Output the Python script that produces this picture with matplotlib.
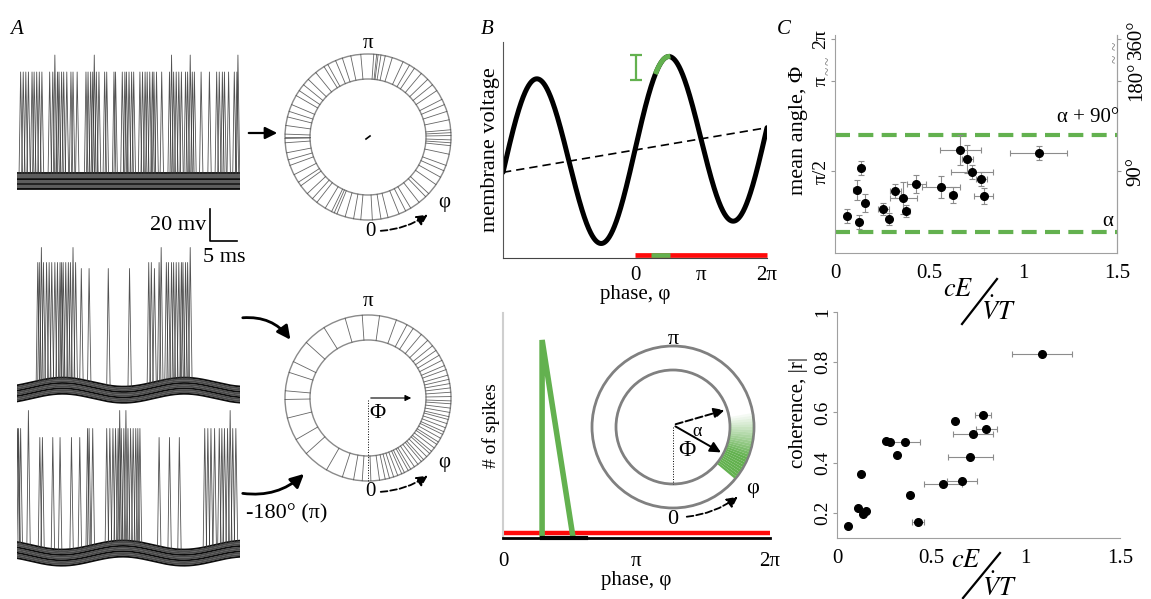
import numpy as np
import matplotlib
matplotlib.use('Agg')
import matplotlib.pyplot as plt
from matplotlib.patches import Circle, Polygon

plt.rcParams['font.family'] = ['Liberation Serif', 'DejaVu Serif']
plt.rcParams['mathtext.fontset'] = 'stix'

W, H = 1151, 599
GREEN = '#63b14f'
RED = '#ff0a0a'
GREY = '#9a9a9a'

# ---------------- panel A : spike times (ms) ----------------
top_spikes = [0.7, 1.2, 1.7, 2.2, 2.9, 3.3, 3.8, 4.3, 4.8, 6.3, 6.9, 7.8, 8.1, 8.6, 9.0, 9.6,
              10.4, 10.8, 11.6, 13.3, 13.7, 14.2, 14.6, 15.3, 15.8, 16.9, 17.3, 18.7, 19.0,
              20.3, 20.8, 21.1, 21.6, 22.1, 22.5, 23.7, 24.2, 24.7, 25.1, 25.6, 26.1, 26.4,
              26.9, 27.9, 29.4, 30.2, 30.7, 31.2, 31.7, 32.5, 32.9, 33.8, 34.2, 35.5, 37.1,
              38.5, 39.0, 39.6, 40.0, 40.8, 41.9, 42.4]
top_tall = [7.3, 14.9, 29.8, 33.4, 42.6]

mid_spikes = [4.0, 4.3, 5.1, 5.7, 6.2, 6.7, 7.3, 7.8, 8.3, 8.6, 8.9, 9.4, 9.9, 10.3, 11.3,
              25.4, 25.9, 27.4, 28.8, 29.2, 29.8, 30.2, 30.7, 31.2, 31.7, 32.0, 32.5, 32.9]
mid_tall = [4.7, 10.8, 27.8, 33.4]
mid_short = [12.4, 13.9, 17.6, 21.7, 26.5]

bot_spikes = [0.1, 0.3, 0.7, 13.6, 13.9, 14.6, 17.3, 17.9, 18.5, 19.0, 19.5, 20.1, 20.6,
              21.4, 21.9, 22.4, 22.9, 23.3, 23.7, 36.2, 36.8, 37.4, 38.1, 39.0, 39.5, 40.0,
              40.6, 41.6, 42.2]
bot_tall = [2.2, 19.8, 21.0, 41.1]
bot_short = [4.4, 4.9, 6.9, 8.3, 10.5, 12.1, 27.4, 29.4, 31.3]

v_rest = -60.0
band_offsets = [-5.5, -4.3, -3.1, -1.9, -0.7, 0.5, 1.7, 2.9, 4.1, 5.3]
drive_amp = 3.0
drive_period = 23.5
mid_crest = 8.8
bot_crest = 20.4

# spike phases (deg, 0 at bottom) in the ring rasters
top_ring = [3, 9, 14, 22, 27, 31, 38, 44, 47, 55, 61, 66, 70, 78, 84, 86, 88, 91, 93, 95,
            102, 108, 113, 117, 124, 129, 134, 140, 146, 150, 155, 163, 168, 171, 173, 174,
            176, 185, 192, 198, 203, 209, 212, 219, 226, 231, 236, 240, 247, 252, 256, 262,
            268, 270, 271, 274, 281, 286, 290, 297, 303, 306, 313, 318, 322, 329, 334, 336,
            338, 344, 350, 355]
bot_ring = [2, 8, 12, 15, 18, 21, 24, 26, 29, 31, 34, 37, 40, 42, 45, 48, 50, 53, 56, 58,
            61, 64, 66, 69, 72, 75, 77, 80, 83, 86, 88, 91, 94, 97, 100, 103, 106, 110, 113,
            117, 121, 125, 129, 134, 140, 147, 152, 160, 172, 184, 196, 212, 228, 244, 252,
            265, 271, 284, 300, 312, 330, 342, 350, 356]

# ---------------- panel B ----------------
vm_trend = [-63.1, -56.9]      # dashed line at phase -2pi and 2pi
vm_amp = 12.2
green_arc = [1.0, np.pi / 2]
green_bar = [0.75, 1.65]
hist_phase = [0.92, 0.92, 1.65]
hist_count = [0, 44, 0]
inset_mean = 62      # deg
inset_dashed = 108   # deg
inset_window = [50, 100]

# ---------------- panel C ----------------
c1_x = [0.062, 0.130, 0.115, 0.138, 0.158, 0.257, 0.286, 0.321, 0.364, 0.380, 0.433,
        0.563, 0.625, 0.667, 0.703, 0.728, 0.778, 0.790, 1.083]
c1_y = [45.3, 38.7, 71.0, 93.3, 58.3, 51.7, 42.0, 69.7, 63.0, 50.0, 77.3, 74.3, 66.3,
        111.0, 101.7, 89.0, 82.0, 64.7, 107.7]
c1_xerr = [0.0, 0.0, 0.02, 0.0, 0.0, 0.03, 0.01, 0.03, 0.07, 0.02, 0.05, 0.10, 0.02,
           0.11, 0.03, 0.11, 0.03, 0.05, 0.15]
c1_yerr = [7, 7, 10, 7, 9, 6, 6, 7, 16, 6, 9, 11, 8, 15, 14, 7, 7, 8, 7]
alpha_line = 29
alpha90_line = 126

c2_x = [0.058, 0.110, 0.127, 0.136, 0.154, 0.258, 0.283, 0.318, 0.360, 0.387, 0.429,
        0.560, 0.627, 0.663, 0.707, 0.721, 0.774, 0.792, 1.087]
c2_y = [0.149, 0.220, 0.353, 0.194, 0.207, 0.487, 0.481, 0.429, 0.481, 0.270, 0.162,
        0.316, 0.565, 0.327, 0.424, 0.513, 0.590, 0.533, 0.833]
c2_xerr = [0, 0, 0, 0, 0, 0, 0.01, 0, 0.078, 0.015, 0.033, 0.10, 0, 0.08, 0.12, 0.105,
           0.04, 0.057, 0.157]


def ax_px(x0, y0, x1, y1):
    return fig.add_axes([x0 / W, 1 - y1 / H, (x1 - x0) / W, (y1 - y0) / H])


fig = plt.figure(figsize=(W / 100, H / 100), dpi=100)

# ---------- A: traces ----------
t = np.linspace(0, 43, 600)


def draw_trace(ax, crest, spike_sets):
    if crest is None:
        base = np.full_like(t, v_rest)
    else:
        base = v_rest + drive_amp * np.cos(2 * np.pi * (t - crest) / drive_period)
    for i, off in enumerate(band_offsets):
        ax.plot(t, base + off, color='k', lw=1.3, alpha=0.95 if i % 3 == 0 else 0.7)
    for spikes, peak in spike_sets:
        for s in spikes:
            b = np.interp(s, t, base) + 5
            ax.plot([s - 0.3, s, s + 0.35], [b, peak, b], color='#333333', lw=0.6, alpha=0.85)
    ax.set_xlim(0, 43)
    ax.axis('off')


a1 = ax_px(17, 45, 240, 195)
draw_trace(a1, None, [(top_spikes, 12.7), (top_tall, 24)])
a1.set_ylim(-69.3, 30.7)

a2 = ax_px(17, 240, 240, 410)
draw_trace(a2, mid_crest, [(mid_spikes, 25), (mid_tall, 35), (mid_short, 21)])
a2.set_ylim(-73.3, 40)

a3 = ax_px(17, 400, 240, 572)
draw_trace(a3, bot_crest, [(bot_spikes, 23), (bot_tall, 35), (bot_short, 17)])
a3.set_ylim(-72.7, 42)
for a in (a1, a2, a3):
    a.patch.set_alpha(0)

# ---------- B top ----------
b1 = ax_px(503, 42, 767, 258)
ph = np.linspace(-2 * np.pi, 2 * np.pi, 800)
trend = vm_trend[0] + (vm_trend[1] - vm_trend[0]) * (ph + 2 * np.pi) / (4 * np.pi)
vm = trend + vm_amp * np.sin(ph)
b1.plot(ph, vm, color='k', lw=3.6, solid_capstyle='round')
m = (ph >= green_arc[0]) & (ph <= green_arc[1])
b1.plot(ph[m], vm[m], color=GREEN, lw=3.6)
b1.plot([-2 * np.pi, 2 * np.pi], vm_trend, color='k', lw=1.2, ls=(0, (5, 3)))
b1.errorbar([0.05], [-48.5], yerr=[1.75], color=GREEN, capsize=4, lw=1.6, capthick=1.6)
b1.plot([0, 2 * np.pi], [-74.6, -74.6], color=RED, lw=3.4, solid_capstyle='butt', clip_on=False)
b1.plot(green_bar, [-74.6, -74.6], color=GREEN, lw=3.4, solid_capstyle='butt', clip_on=False)
b1.set_xlim(-2 * np.pi, 2 * np.pi)
b1.set_ylim(-75, -45)
b1.set_xticks([0, np.pi, 2 * np.pi], ['0', 'π', '2π'], fontsize=15)
b1.set_yticks([])
b1.tick_params(length=0, pad=6)
for s in ('top', 'right'):
    b1.spines[s].set_visible(False)
b1.spines['left'].set_color('#555555')
b1.spines['bottom'].set_color('#444444')
b1.set_xlabel('phase, φ', fontsize=15, labelpad=0)
b1.set_ylabel('membrane voltage', fontsize=16, labelpad=2)
b1.patch.set_alpha(0)

# ---------- B bottom ----------
b2 = ax_px(503, 313, 770, 538)
b2.plot([0, 2 * np.pi], [1.1, 1.1], color=RED, lw=3.2, solid_capstyle='butt')
b2.plot(hist_phase, hist_count, color=GREEN, lw=4, solid_joinstyle='miter')
b2.plot([hist_phase[0], 1.95], [0, 0], color='k', lw=3, clip_on=False)
b2.set_xlim(0, 2 * np.pi)
b2.set_ylim(0, 50)
b2.set_xticks([0, np.pi, 2 * np.pi], ['0', 'π', '2π'], fontsize=15)
b2.set_yticks([])
b2.tick_params(length=0, pad=10)
for s in ('top', 'right'):
    b2.spines[s].set_visible(False)
b2.spines['left'].set_color('#cfcfcf')
b2.spines['left'].set_linewidth(1.5)
b2.spines['bottom'].set_linewidth(2)
b2.set_xlabel('phase, φ', fontsize=15, labelpad=0)
b2.set_ylabel('# of spikes', fontsize=14, labelpad=2)
b2.patch.set_alpha(0)

# ---------- C top ----------
c1 = ax_px(835, 35, 1117, 253)
c1.axhline(alpha90_line, color=GREEN, lw=3, dashes=(3.6, 2))
c1.axhline(alpha_line, color=GREEN, lw=3, dashes=(3.6, 2))
c1.errorbar(c1_x, c1_y, xerr=c1_xerr, yerr=c1_yerr, fmt='o', color='k', ms=5.5,
            ecolor='#8c8c8c', elinewidth=0.8, capsize=2, capthick=0.8)
c1.set_xlim(0, 1.5)
c1.set_ylim(8, 226)
c1.set_xticks([0, 0.5, 1, 1.5], ['0', '0.5', '1', '1.5'], fontsize=15)
c1.set_yticks([90, 180, 222], ['π/2', 'π', '2π'], fontsize=14, rotation=90, va='center')
c1.tick_params(axis='x', length=0, pad=8)
c1.tick_params(axis='y', length=3, color=GREY, pad=1)
c1.spines['top'].set_visible(False)
for s in ('left', 'bottom', 'right'):
    c1.spines[s].set_color('#a0a0a0')
c1r = c1.twinx()
c1r.set_ylim(8, 226)
c1r.set_yticks([90, 180, 222], ['90°', '180°', '360°'], fontsize=15, rotation=90, va='center')
c1r.tick_params(axis='y', length=3, color=GREY, pad=4)
for s in ('left', 'bottom', 'top'):
    c1r.spines[s].set_visible(False)
c1r.spines['right'].set_color('#a0a0a0')
c1.patch.set_alpha(0)

# ---------- C bottom ----------
c2 = ax_px(837, 312, 1120, 538)
c2.errorbar(c2_x, c2_y, xerr=c2_xerr, fmt='o', color='k', ms=5.5,
            ecolor='#8c8c8c', elinewidth=0.8, capsize=2, capthick=0.8)
c2.set_xlim(0, 1.5)
c2.set_ylim(0.1, 1.0)
c2.set_xticks([0, 0.5, 1, 1.5], ['0', '0.5', '1', '1.5'], fontsize=15)
c2.set_yticks([0.2, 0.4, 0.6, 0.8, 1.0], ['0.2', '0.4', '0.6', '0.8', '1'], fontsize=14,
              rotation=90, va='center')
c2.tick_params(axis='x', length=0, pad=8)
c2.tick_params(axis='y', length=3, color=GREY, pad=1)
for s in ('top', 'right'):
    c2.spines[s].set_visible(False)
for s in ('left', 'bottom'):
    c2.spines[s].set_color('#a0a0a0')
c2.patch.set_alpha(0)

# ---------- overlay (schematic drawings and free text) ----------
ov = fig.add_axes([0, 0, 1, 1])
ov.set_xlim(0, W)
ov.set_ylim(H, 0)
ov.axis('off')
ov.patch.set_alpha(0)


def pt(cx, cy, rad, deg):
    a = np.deg2rad(deg)
    return cx + rad * np.sin(a), cy + rad * np.cos(a)


def ring(cx, cy, R, r, phases):
    ov.add_patch(Circle((cx, cy), R, fill=False, ec='#8a8a8a', lw=1.0))
    ov.add_patch(Circle((cx, cy), r, fill=False, ec='#8a8a8a', lw=1.0))
    for p in phases:
        x0, y0 = pt(cx, cy, r, p)
        x1, y1 = pt(cx, cy, R, p)
        ov.plot([x0, x1], [y0, y1], color='#4a4a4a', lw=0.6, alpha=0.85)


def zero_phi(cx, cy, fs=15):
    ov.text(cx + 2, cy + 94, '0', fontsize=fs, ha='center', va='center')
    ov.annotate('', xy=(cx + 62, cy + 76), xytext=(cx + 10, cy + 94),
                arrowprops=dict(arrowstyle='-|>', color='k', lw=1.3, ls='--',
                                mutation_scale=16, connectionstyle='arc3,rad=0.15'))
    ov.text(cx + 76, cy + 65, 'φ', fontsize=fs, ha='center', va='center')


# A rings
ring(368, 137, 83, 58, top_ring)
ov.plot([366, 370], [139, 136], color='k', lw=1.2)
ov.text(368, 44, 'π', fontsize=15, ha='center', va='center')
zero_phi(368, 137)

ring(368, 398, 83, 58, bot_ring)
ov.text(368, 302, 'π', fontsize=15, ha='center', va='center')
zero_phi(368, 398)
ov.annotate('', xy=(414, 398), xytext=(368, 398),
            arrowprops=dict(arrowstyle='-|>', color='k', lw=0.8, mutation_scale=9))
ov.plot([368, 368], [400, 482], color='k', lw=0.7, ls=':')
ov.text(377, 413, 'Φ', fontsize=16, ha='center', va='center')

# A arrows
ov.annotate('', xy=(280, 133), xytext=(246, 133),
            arrowprops=dict(arrowstyle='-|>', color='k', lw=1.6, mutation_scale=18))
ov.annotate('', xy=(292, 342), xytext=(240, 318),
            arrowprops=dict(arrowstyle='-|>', color='k', lw=2, mutation_scale=20,
                            connectionstyle='arc3,rad=-0.3'))
ov.annotate('', xy=(306, 472), xytext=(240, 493),
            arrowprops=dict(arrowstyle='-|>', color='k', lw=2, mutation_scale=20,
                            connectionstyle='arc3,rad=0.25'))
ov.text(287, 514, '-180° (π)', fontsize=16, ha='center', va='center')

# scale bar
ov.plot([210, 210, 237], [209, 241, 241], color='k', lw=1.2)
ov.text(206, 226, '20 mv', fontsize=16, ha='right', va='center')
ov.text(224, 257, '5 ms', fontsize=16, ha='center', va='center')

# B inset
icx, icy, iR, ir = 673, 427, 81, 57
ov.add_patch(Circle((icx, icy), iR, fill=False, ec='#808080', lw=2))
ov.add_patch(Circle((icx, icy), ir, fill=False, ec='#808080', lw=2))
edges = np.linspace(inset_window[0], inset_window[1], 26)
for a0, a1_ in zip(edges[:-1], edges[1:]):
    fade = 1.0 if a1_ <= 66 else max(0.0, (inset_window[1] - a0) / (inset_window[1] - 66))
    angs = np.linspace(a0, a1_, 4)
    poly = [pt(icx, icy, ir + 1, a) for a in angs] + [pt(icx, icy, iR - 1, a) for a in angs[::-1]]
    ov.add_patch(Polygon(poly, closed=True, fc=GREEN, ec='none', alpha=fade))
ov.annotate('', xy=pt(icx, icy, ir, inset_mean), xytext=(icx, icy - 2),
            arrowprops=dict(arrowstyle='-|>', color='k', lw=1.4, mutation_scale=16))
ov.annotate('', xy=pt(icx, icy, ir, inset_dashed), xytext=(icx, icy - 2),
            arrowprops=dict(arrowstyle='-|>', color='k', lw=1.4, ls='--', mutation_scale=16))
ov.plot([icx, icx], [icy, icy + ir], color='k', lw=0.7, ls=':')
ov.text(697, 432, 'α', fontsize=13, ha='center', va='center')
ov.text(687, 450, 'Φ', fontsize=17, ha='center', va='center')
ov.text(icx, 340, 'π', fontsize=16, ha='center', va='center')
ov.text(icx, 520, '0', fontsize=16, ha='center', va='center')
ov.annotate('', xy=(740, 495), xytext=(684, 517),
            arrowprops=dict(arrowstyle='-|>', color='k', lw=1.3, ls='--',
                            mutation_scale=16, connectionstyle='arc3,rad=0.15'))
ov.text(753, 489, 'φ', fontsize=16, ha='center', va='center')

# C annotations
ov.text(1088, 118, 'α + 90°', fontsize=15, ha='center', va='center')
ov.text(1108, 221, 'α', fontsize=15, ha='center', va='center')
for (bx, by) in [(829, 61), (829, 71), (1116, 46), (1116, 59)]:
    ov.text(bx, by, '~', fontsize=11, ha='center', va='center', rotation=90, color='#777777')
ov.text(799, 130, 'mean angle, Φ', fontsize=16, ha='center', va='center', rotation=90)
ov.text(799, 412, 'coherence, |r|', fontsize=15, ha='center', va='center', rotation=90)


def ce_vt(xc, yc, xv, yv, s0, s1):
    ov.text(xc, yc, '$cE$', fontsize=19, ha='center', va='center')
    ov.plot([s0[0], s1[0]], [s0[1], s1[1]], color='k', lw=1.6)
    ov.text(xv, yv, r'$\dot{V}T$', fontsize=19, ha='center', va='center')


ce_vt(958, 290, 998, 311, (962, 324), (997, 279))
ce_vt(966, 561, 999, 587, (963, 598), (1000, 553))

# panel letters
ov.text(17, 30, 'A', fontsize=15, style='italic', ha='center', va='center')
ov.text(487, 30, 'B', fontsize=15, style='italic', ha='center', va='center')
ov.text(784, 30, 'C', fontsize=15, style='italic', ha='center', va='center')

fig.savefig('out.png', dpi=100)
